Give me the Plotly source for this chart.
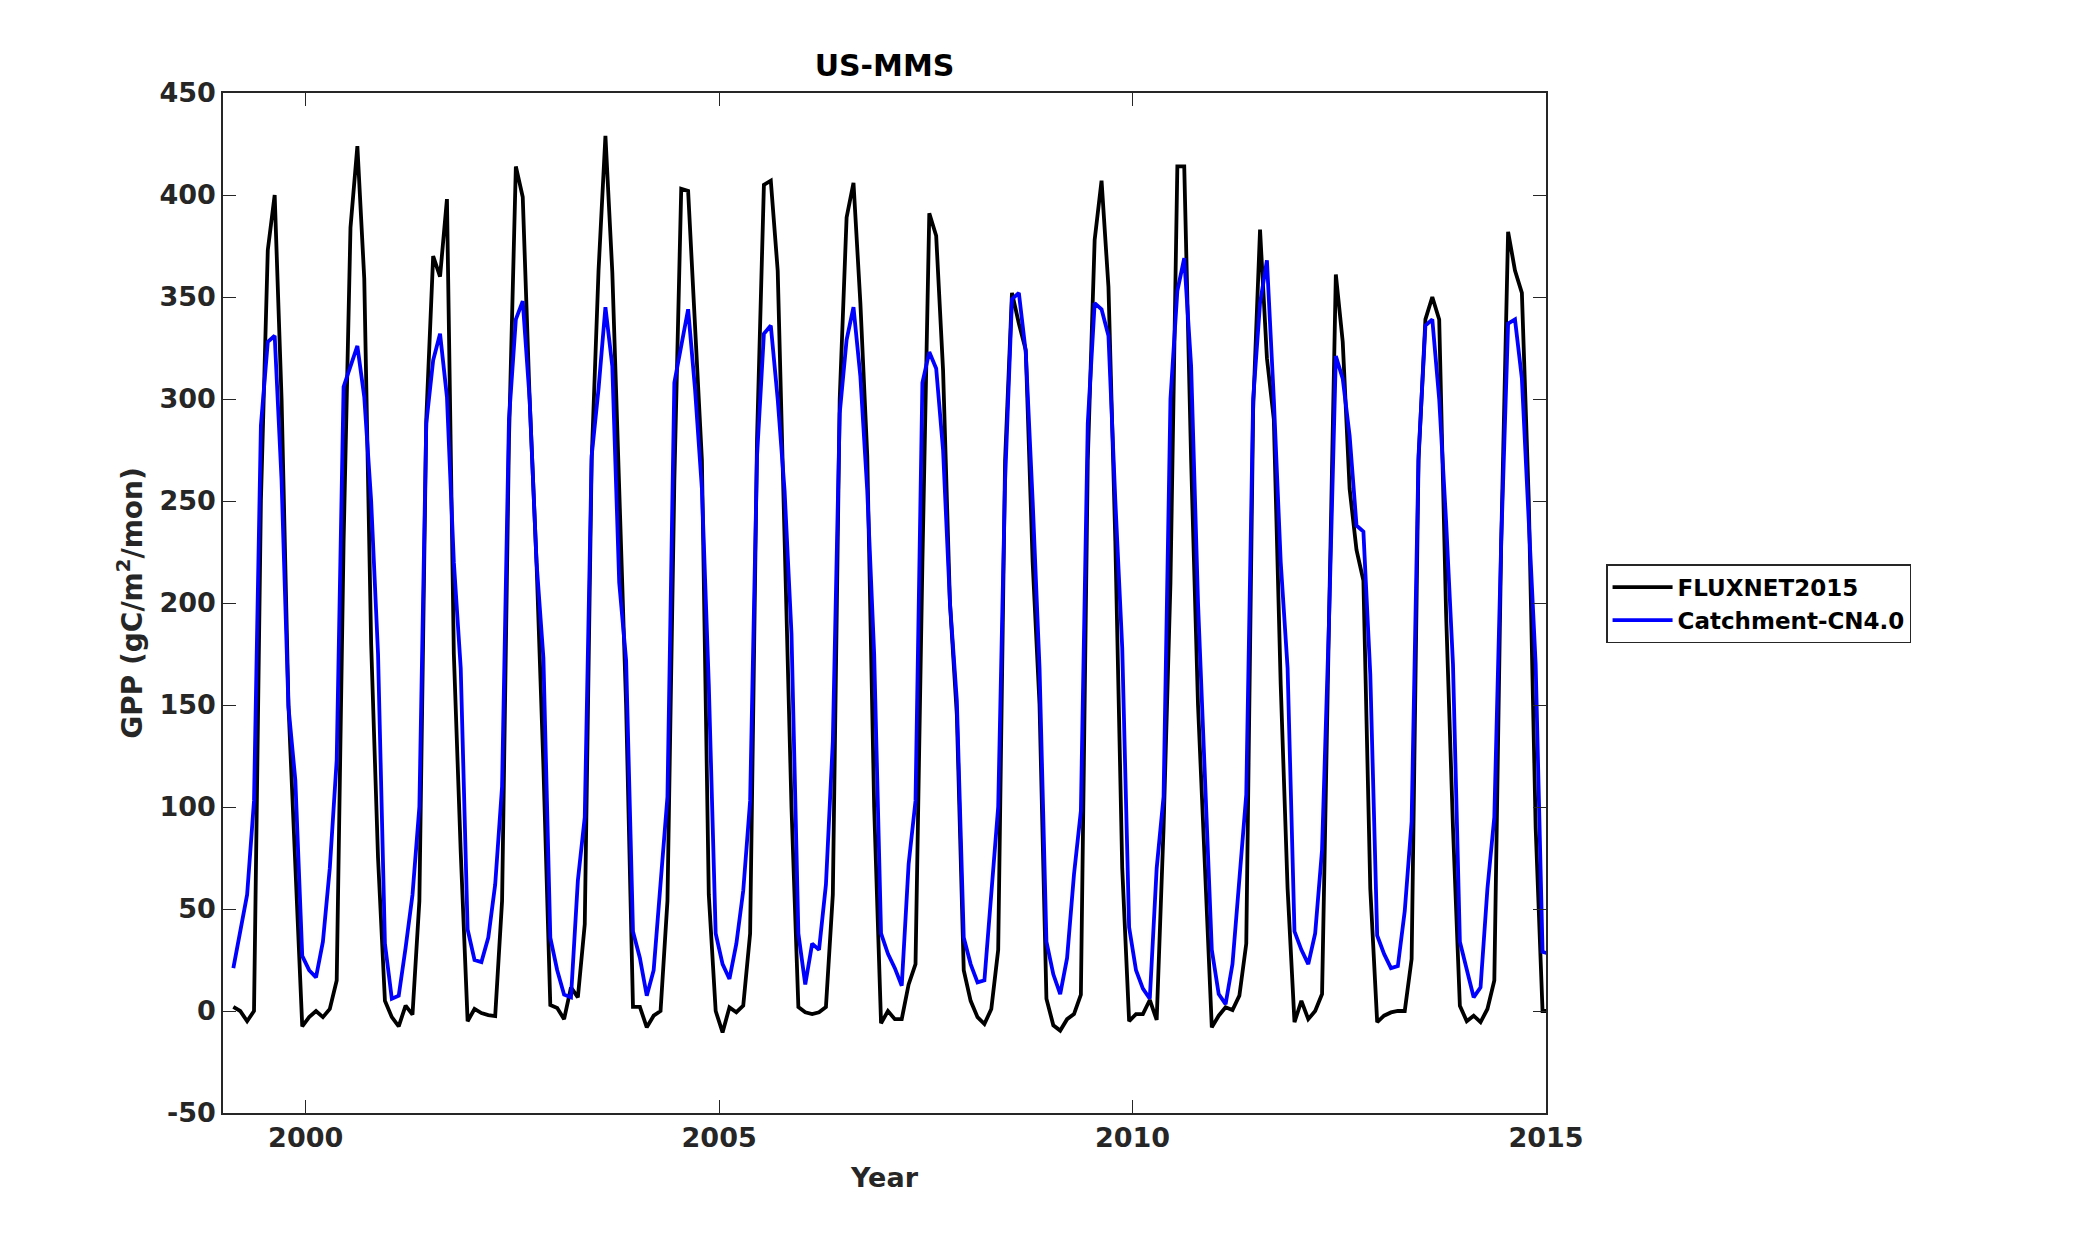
import numpy as np
import plotly.graph_objects as go

# =========================
# DATA (monthly GPP, Jan 1999 - Dec 2014)
# =========================
years = list(range(1999, 2015))
months = list(range(1, 13))

fluxnet = [
    2, 0, -5, 0, 250, 373, 400, 300, 150, 70, -7.5, -3,            # 1999
    0, -3, 1, 15, 230, 384, 424, 359, 180, 75, 5, -3,              # 2000
    -7.5, 2.6, -1.8, 54, 290, 370, 360, 398, 175, 78, -5, 1,       # 2001
    -1, -2, -2.5, 54, 280, 414, 399, 300, 220, 120, 3, 1.5,        # 2002
    -4, 11.6, 6.7, 42.6, 270, 363, 429, 362, 250, 150, 2, 2,       # 2003
    -8, -2.3, 0, 54, 260, 403, 402, 340, 270, 57, 0, -10.5,        # 2004
    1.8, -0.6, 2.6, 38, 280, 405, 407, 363, 230, 100, 2, -0.6,     # 2005
    -1.5, -0.6, 2, 57, 300, 389, 406, 347, 272, 100, -6, 0,        # 2006
    -4, -4, 13, 23, 220, 391, 380, 314, 200, 145, 20, 5,           # 2007
    -3, -6.4, 1, 30, 270, 352, 337, 324, 220, 150, 6, -7,          # 2008
    -9.6, -4, -1.5, 8, 270, 378, 407, 355, 230, 70, -5, -1.5,      # 2009
    -1.5, 5.4, -4.4, 90, 210, 414, 414, 270, 150, 70, -8, -2.3,    # 2010
    1.8, 0.5, 7.5, 33, 295, 383, 320, 290, 160, 60, -5.5, 5,       # 2011
    -4, 0, 8.3, 190, 361, 328, 256, 226, 211, 60, -5.5, -2.3,      # 2012
    -0.7, 0, 0, 25.5, 270, 339, 350, 339, 195, 90, 2.6, -5,        # 2013
    -2.3, -5.5, 1, 15, 230, 382, 363, 352, 250, 90, 0, 0,          # 2014
]

catchment = [
    21, 39, 57, 103, 287, 328, 331, 260, 149, 113, 27, 20,         # 1999
    16.5, 34, 70, 123, 306, 316, 326, 301, 250, 175, 33, 6,        # 2000
    7.5, 31, 57, 100, 288, 319, 332, 301, 220, 168, 40, 25,        # 2001
    24, 36, 62, 110, 290, 339, 348, 300, 220, 173, 36, 20,         # 2002
    8, 6.7, 64, 95, 272, 305, 345, 316, 210, 172, 39, 26,          # 2003
    7.5, 20, 62, 105, 308, 327, 344, 305, 256, 160, 38, 23,        # 2004
    15.7, 33, 59, 103, 272, 332, 336, 300, 255, 185, 38, 13,       # 2005
    33, 30, 62, 132, 293, 329, 345, 311, 255, 175, 38, 28,         # 2006
    21, 12.4, 72, 103, 308, 323, 315, 275, 200, 152, 36, 23,       # 2007
    14, 15, 57, 100, 260, 349, 352, 323, 250, 168, 34, 18,         # 2008
    8.3, 26, 67, 98, 288, 347, 344, 331, 250, 178, 41, 20,         # 2009
    11, 6, 70, 105, 300, 353, 369, 316, 200, 120, 30, 8.3,         # 2010
    3.4, 23, 62, 106, 300, 347, 368, 300, 220, 168, 39, 30,        # 2011
    23, 38, 79, 190, 321, 310, 282, 238, 235, 165, 37, 28,         # 2012
    21, 22, 49, 93, 272, 336, 339, 300, 240, 170, 34, 20,          # 2013
    6.7, 11.6, 60, 95, 230, 337, 339, 310, 240, 170, 29, 28,       # 2014
]

# decimal year of each monthly value
yy, mm = np.meshgrid(years, months, indexing="ij")
t = (yy + (mm + 0.5) / 12.0).ravel()

x_ticks = [2000, 2005, 2010, 2015]
y_ticks = list(range(-50, 451, 50))

FONT = "DejaVu Sans"
AX = "#262626"

# page body has an 8px margin, so the figure is a bit smaller than the window
W, H = 2075, 1242

# =========================
# FIGURE
# =========================
fig = go.Figure()

fig.add_trace(go.Scatter(
    x=t, y=fluxnet, mode="lines", name="FLUXNET2015",
    line=dict(color="#000000", width=3.8),
))
fig.add_trace(go.Scatter(
    x=t, y=catchment, mode="lines", name="Catchment-CN4.0",
    line=dict(color="#0000ff", width=3.8),
))

axis_common = dict(
    showgrid=False, zeroline=False,
    showline=True, linecolor=AX, linewidth=1.5, mirror="ticks",
    ticks="inside", ticklen=13, tickwidth=1.3, tickcolor=AX,
    tickfont=dict(family=FONT, size=27, color=AX, weight="bold"),
)

fig.update_xaxes(
    range=[1999, 2015], tickvals=x_ticks, ticktext=[str(v) for v in x_ticks],
    title=dict(text="Year", font=dict(family=FONT, size=27, color=AX, weight="bold"),
               standoff=16),
    **axis_common,
)
fig.update_yaxes(
    range=[-50, 450], tickvals=y_ticks, ticktext=[str(v) for v in y_ticks],
    title=dict(text="GPP (gC/m<sup>2</sup>/mon)",
               font=dict(family=FONT, size=28, color=AX, weight="bold"), standoff=9),
    **axis_common,
)

fig.update_layout(
    width=W, height=H,
    margin=dict(l=215, r=537, t=85, b=137),
    paper_bgcolor="white", plot_bgcolor="white",
    font=dict(family=FONT, color="#000000"),
    title=dict(text="US-MMS", xref="paper", x=0.5, xanchor="center",
               y=1 - 57 / H, yanchor="middle",
               font=dict(family=FONT, size=30, color="#000000", weight="bold")),
    showlegend=True,
    legend=dict(
        x=1.0454, y=0.5380, xanchor="left", yanchor="top",
        bgcolor="white", bordercolor=AX, borderwidth=1.5,
        font=dict(family=FONT, size=23, color="#000000", weight="bold"),
        itemwidth=60, tracegroupgap=0,
    ),
)

fig.write_html("out.html")
